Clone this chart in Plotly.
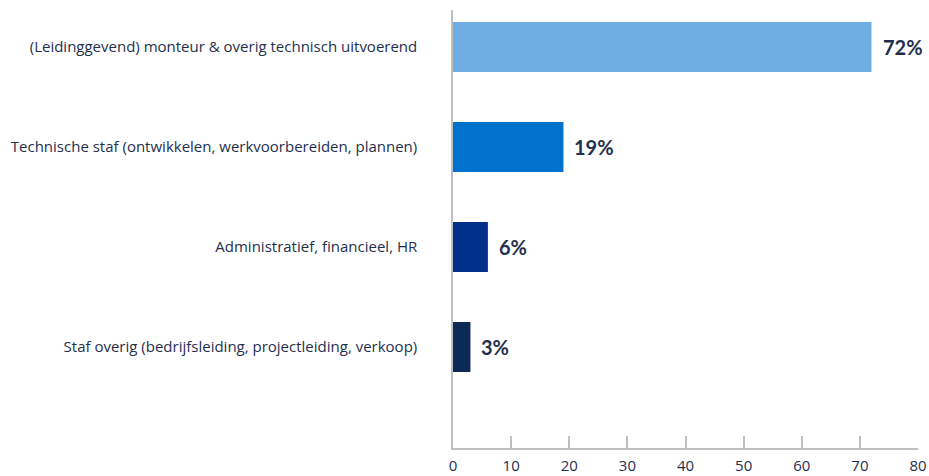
import plotly.graph_objects as go

categories = [
    "(Leidinggevend) monteur & overig technisch uitvoerend",
    "Technische staf (ontwikkelen, werkvoorbereiden, plannen)",
    "Administratief, financieel, HR",
    "Staf overig (bedrijfsleiding, projectleiding, verkoop)",
]
values = [72, 19, 6, 3]
value_labels = ["72%", "19%", "6%", "3%"]
bar_colors = ["#6FAEE2", "#0072CE", "#003087", "#0C2A54"]
x_ticks = [0, 10, 20, 30, 40, 50, 60, 70, 80]

text_color = "#1F2F4E"
axis_color = "#BFBFBF"

fig = go.Figure(
    go.Bar(
        x=values,
        y=categories,
        orientation="h",
        marker=dict(color=bar_colors, line=dict(width=0)),
        width=0.5,
        hoverinfo="skip",
    )
)

for cat, val, lab in zip(categories, values, value_labels):
    fig.add_annotation(
        x=val, y=cat, text=lab, showarrow=False,
        xanchor="left", yanchor="middle", xshift=9,
        font=dict(family="Lato, Open Sans, sans-serif", size=20, color=text_color, weight="bold"),
    )

fig.update_layout(
    width=929, height=476,
    margin=dict(l=453, r=11, t=10, b=28),
    paper_bgcolor="white", plot_bgcolor="white",
    showlegend=False,
    font=dict(family="Open Sans, sans-serif", size=15, color=text_color),
)
fig.update_xaxes(
    range=[0, 80], tickvals=x_ticks, showgrid=False, zeroline=False,
    showline=True, linecolor=axis_color, linewidth=1.5,
    ticks="inside", ticklen=12, tickcolor=axis_color, tickwidth=1.5,
    tickfont=dict(family="Open Sans, sans-serif", size=15, color=text_color),
    ticklabelstandoff=3, automargin=False,
)
fig.update_yaxes(
    range=[4.01, -0.37], showgrid=False, zeroline=False,
    showline=True, linecolor=axis_color, linewidth=1.5,
    ticks="", tickfont=dict(size=15, color=text_color), ticklabelstandoff=31,
    automargin=False,
)

fig.write_html("out.html")
